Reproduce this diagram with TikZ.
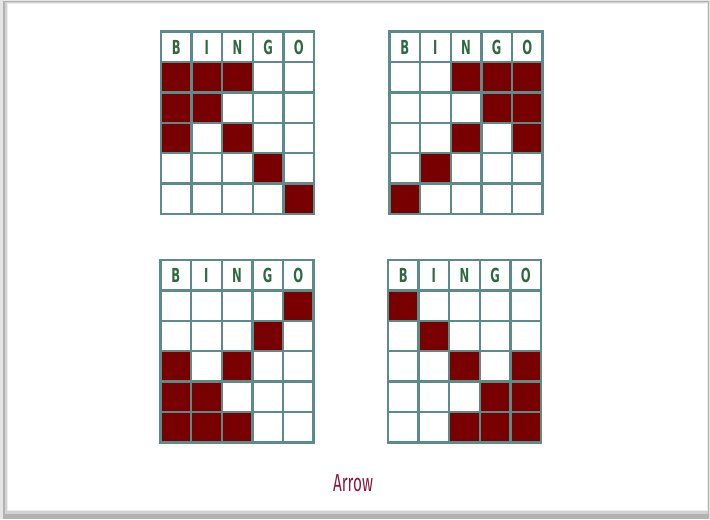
\documentclass[tikz,border=0pt]{standalone}
\usepackage{fontspec}
\setmainfont{Fira Sans}
\newfontfamily\headfont{DejaVu Sans}
\definecolor{gridc}{HTML}{5B8C8A}
\definecolor{hit}{HTML}{780000}
\definecolor{letterc}{HTML}{2D6A40}
\definecolor{capc}{HTML}{8A1C3A}
\tikzset{
  gridline/.style={draw=gridc, line width=1.8pt, line cap=rect},
  hitbox/.style={fill=hit, draw=none, minimum width=22.95pt, minimum height=22.8pt, inner sep=0pt, anchor=north west},
  headtext/.style={text=letterc, inner sep=0pt, font=\headfont\fontsize{14.5}{14.5}\selectfont\bfseries},
  captext/.style={text=capc, font=\fontsize{18.5}{18.5}\selectfont}
}
\newcommand\bingocard[4]{%
  \fill[white] (#2,#3) rectangle ({#2+5*30.6},{#3+6*30.4});
  \foreach \r/\c in {#4}{
    \node[hitbox] (#1-f\r-\c) at ({#2+(\c-1)*30.6},{#3+\r*30.4}) {};
  }
  \foreach \L [count=\c] in {B,I,N,G,O}{
    \node[headtext] (#1-h\c) at ({#2+(\c-0.5)*30.6},{#3+15.6}) {\scalebox{0.6}[1]{\L}};
  }
  \foreach \c in {0,...,5}{
    \draw[gridline] ({#2+\c*30.6},#3) -- ({#2+\c*30.6},{#3+6*30.4});
  }
  \foreach \r in {0,...,6}{
    \draw[gridline] (#2,{#3+\r*30.4}) -- ({#2+5*30.6},{#3+\r*30.4});
  }
}
\begin{document}
\begin{tikzpicture}[x=0.75pt,y=-0.75pt]
\useasboundingbox (0,0) rectangle (710,519);
% frame with soft shadow
\fill[gray!20] (0,0) rectangle (710,519);
\fill[gray!60] (3,1) rectangle (709,519);
\fill[gray!35] (5,2) rectangle (708,514);
\fill[gray!15] (7,3) rectangle (708,511);
\fill[white] (8,4) rectangle (707,510);
% cards
\bingocard{tl}{161}{31.5}{1/1,1/2,1/3,2/1,2/2,3/1,3/3,4/4,5/5}
\bingocard{tr}{389.5}{31.5}{1/3,1/4,1/5,2/4,2/5,3/3,3/5,4/2,5/1}
\bingocard{bl}{160.5}{260}{1/5,2/4,3/1,3/3,4/1,4/2,5/1,5/2,5/3}
\bingocard{br}{388}{260}{1/1,2/2,3/3,3/5,4/4,4/5,5/3,5/4,5/5}
% caption
\node[captext] (cap) at (353,483) {\scalebox{0.62}[1]{Arrow}};
\end{tikzpicture}
\end{document}
